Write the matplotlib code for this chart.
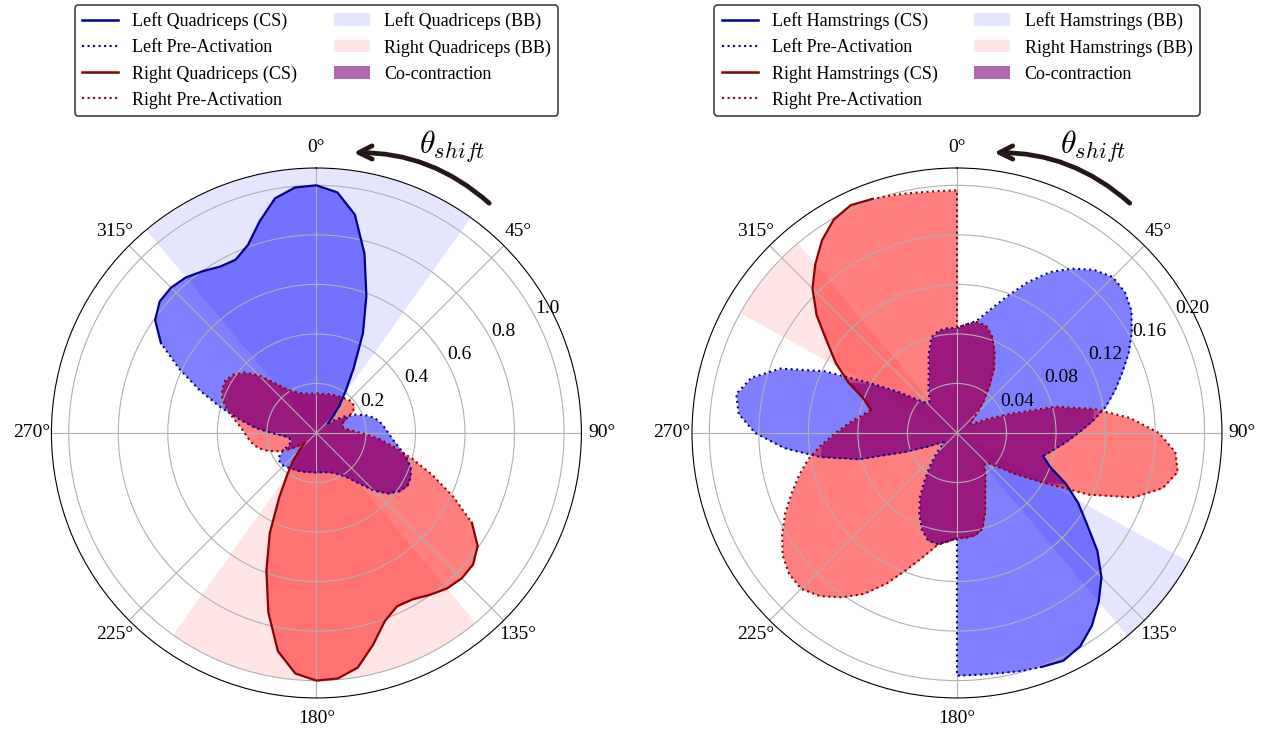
import numpy as np
import matplotlib.pyplot as plt
from matplotlib.lines import Line2D
from matplotlib.patches import Patch

plt.rcParams['font.family'] = 'serif'
plt.rcParams['font.serif'] = ['Liberation Serif', 'DejaVu Serif']
plt.rcParams['mathtext.fontset'] = 'cm'

# --- quadriceps (left panel): radius vs gait angle, every 5 degrees ---
quad_theta = list(range(0, 365, 5))
quad_left = [1.0, 0.975, 0.895, 0.75, 0.59, 0.445, 0.30, 0.205, 0.145, 0.095,
             0.062, 0.095, 0.135, 0.175, 0.21, 0.24, 0.26, 0.275, 0.29, 0.31,
             0.34, 0.375, 0.405, 0.42, 0.425, 0.41, 0.38, 0.33, 0.265, 0.22,
             0.195, 0.18, 0.17, 0.165, 0.16, 0.16, 0.16, 0.16, 0.16, 0.163,
             0.166, 0.169, 0.172, 0.176, 0.181, 0.187, 0.19, 0.186, 0.17, 0.13,
             0.11, 0.108, 0.112, 0.135, 0.18, 0.25, 0.315, 0.40, 0.50, 0.61,
             0.725, 0.795, 0.826, 0.83, 0.82, 0.798, 0.776, 0.772, 0.808, 0.885,
             0.962, 0.995, 1.0]
quad_right = [0.16, 0.16, 0.16, 0.163, 0.166, 0.169, 0.172, 0.176, 0.181, 0.187,
              0.19, 0.186, 0.17, 0.13, 0.11, 0.108, 0.112, 0.135, 0.18, 0.25,
              0.315, 0.40, 0.50, 0.61, 0.725, 0.795, 0.826, 0.83, 0.82, 0.798,
              0.776, 0.772, 0.808, 0.885, 0.962, 0.995, 1.0, 0.975, 0.895, 0.75,
              0.59, 0.445, 0.30, 0.205, 0.145, 0.095, 0.062, 0.095, 0.135, 0.175,
              0.21, 0.24, 0.26, 0.275, 0.29, 0.31, 0.34, 0.375, 0.405, 0.42,
              0.425, 0.41, 0.38, 0.33, 0.265, 0.22, 0.195, 0.18, 0.17, 0.165,
              0.16, 0.16, 0.16]
quad_left_cs = (300, 410)
quad_right_cs = (120, 230)
# BB bands: (start deg, end deg, outer radius)
quad_left_bb = (320, 395.5, 1.07)
quad_right_bb = (140, 215.5, 1.0)

# --- hamstrings (right panel); 180 deg appears twice (jump in the left curve) ---
ham_theta = list(range(0, 185, 5)) + list(range(180, 365, 5))
ham_left = [0.085, 0.088, 0.092, 0.103, 0.117, 0.134, 0.150, 0.162, 0.172, 0.178,
            0.177, 0.172, 0.163, 0.153, 0.142, 0.132, 0.122, 0.110, 0.098, 0.088,
            0.079, 0.072, 0.080, 0.097, 0.113, 0.128, 0.148, 0.165, 0.178, 0.190,
            0.199, 0.203, 0.201, 0.199, 0.197, 0.196, 0.196,
            0.085, 0.088, 0.091, 0.090, 0.083, 0.072, 0.060, 0.045, 0.033, 0.024,
            0.016, 0.013, 0.016, 0.026, 0.045, 0.082, 0.112, 0.140, 0.163, 0.177,
            0.181, 0.172, 0.152, 0.118, 0.080, 0.058, 0.042, 0.034, 0.034, 0.040,
            0.046, 0.054, 0.067, 0.080, 0.084, 0.085, 0.085]
ham_right = [0.085, 0.088, 0.091, 0.090, 0.083, 0.072, 0.060, 0.045, 0.033, 0.024,
             0.016, 0.013, 0.016, 0.026, 0.045, 0.082, 0.112, 0.140, 0.163, 0.177,
             0.181, 0.172, 0.152, 0.118, 0.080, 0.058, 0.042, 0.034, 0.034, 0.040,
             0.046, 0.054, 0.067, 0.080, 0.084, 0.085, 0.085,
             0.085, 0.088, 0.092, 0.103, 0.117, 0.134, 0.150, 0.162, 0.172, 0.178,
             0.177, 0.172, 0.163, 0.153, 0.142, 0.132, 0.122, 0.110, 0.098, 0.088,
             0.079, 0.072, 0.080, 0.097, 0.113, 0.128, 0.148, 0.165, 0.178, 0.190,
             0.199, 0.203, 0.201, 0.199, 0.197, 0.196, 0.196]
ham_left_cs = (105, 160)
ham_right_cs = (285, 340)
ham_left_bb = (119, 140, 0.214)
ham_right_bb = (299, 320, 0.20)

quad_ticks = [0.2, 0.4, 0.6, 0.8, 1.0]
ham_ticks = [0.04, 0.08, 0.12, 0.16, 0.20]

ARROW_COLOR = '#231815'


def piece(theta, r, lo, hi):
    # part of a closed curve between two angles (deg), wrapping past 360
    th = np.concatenate([theta, np.asarray(theta) + 360])
    rr = np.concatenate([r, r])
    keep = (th >= lo) & (th <= hi)
    return np.radians(th[keep]), rr[keep]


def draw_panel(ax, theta, r_left, r_right, cs_left, cs_right, bb_left, bb_right,
               ticks, rmax, muscle):
    theta = np.asarray(theta, dtype=float)
    r_left = np.asarray(r_left)
    r_right = np.asarray(r_right)
    t = np.radians(theta)

    ax.set_theta_zero_location('N')
    ax.set_theta_direction(-1)

    for (lo, hi, top), c in [(bb_left, 'blue'), (bb_right, 'red')]:
        tb = np.radians(np.linspace(lo, hi, 100))
        ax.fill_between(tb, 0, top, color=c, alpha=0.1, lw=0)

    ax.fill_between(t, 0, r_left, color='blue', alpha=0.5, lw=0)
    ax.fill_between(t, 0, r_right, color='red', alpha=0.5, lw=0)
    ax.fill_between(t, 0, np.minimum(r_left, r_right), color='purple', alpha=0.6, lw=0)

    for r, cs, col in [(r_left, cs_left, 'darkblue'), (r_right, cs_right, 'darkred')]:
        ax.plot(*piece(theta, r, cs[1], cs[0] + 360), ls=':', color=col, lw=1.5)
        ax.plot(*piece(theta, r, cs[0], cs[1]), color=col, lw=1.6)

    ax.set_ylim(0, rmax)
    ax.set_yticks(ticks)
    ax.set_rlabel_position(62)
    ax.set_thetagrids(range(0, 360, 45))
    ax.tick_params(axis='x', labelsize=14, pad=4)
    ax.tick_params(axis='y', labelsize=14)

    # theta shift arrow
    s = rmax / 1.07
    ax.annotate('', xy=(np.radians(7.0), 1.14 * s), xytext=(np.radians(37.5), 1.16 * s),
                xycoords='data', annotation_clip=False,
                arrowprops=dict(arrowstyle='->', color=ARROW_COLOR, lw=3.4,
                                mutation_scale=24, connectionstyle='arc3,rad=0.2'))
    ax.text(np.radians(25.4), 1.28 * s, r'$\theta_{shift}$', fontsize=23,
            ha='center', va='center', color='black')

    handles = [
        Line2D([], [], color='darkblue', lw=1.8, label=f'Left {muscle} (CS)'),
        Line2D([], [], color='darkblue', lw=1.5, ls=':', label='Left Pre-Activation'),
        Line2D([], [], color='darkred', lw=1.8, label=f'Right {muscle} (CS)'),
        Line2D([], [], color='darkred', lw=1.5, ls=':', label='Right Pre-Activation'),
        Patch(facecolor='blue', alpha=0.1, label=f'Left {muscle} (BB)'),
        Patch(facecolor='red', alpha=0.1, label=f'Right {muscle} (BB)'),
        Patch(facecolor='purple', alpha=0.6, label='Co-contraction'),
    ]
    leg = ax.legend(handles=handles, ncol=2, loc='upper center',
                    bbox_to_anchor=(0.5, 1.3075), borderaxespad=0, fontsize=13,
                    fancybox=True, framealpha=1, edgecolor='0.25')
    leg.get_frame().set_linewidth(1.2)


fig = plt.figure(figsize=(12.73, 7.31), dpi=100)
ax1 = fig.add_axes([0.0404, 0.0452, 0.4163, 0.725], projection='polar')
ax2 = fig.add_axes([0.5436, 0.0452, 0.4163, 0.725], projection='polar')

draw_panel(ax1, quad_theta, quad_left, quad_right, quad_left_cs, quad_right_cs,
           quad_left_bb, quad_right_bb, quad_ticks, 1.07, 'Quadriceps')
draw_panel(ax2, ham_theta, ham_left, ham_right, ham_left_cs, ham_right_cs,
           ham_left_bb, ham_right_bb, ham_ticks, 0.214, 'Hamstrings')

fig.savefig('out.png', dpi=100)
